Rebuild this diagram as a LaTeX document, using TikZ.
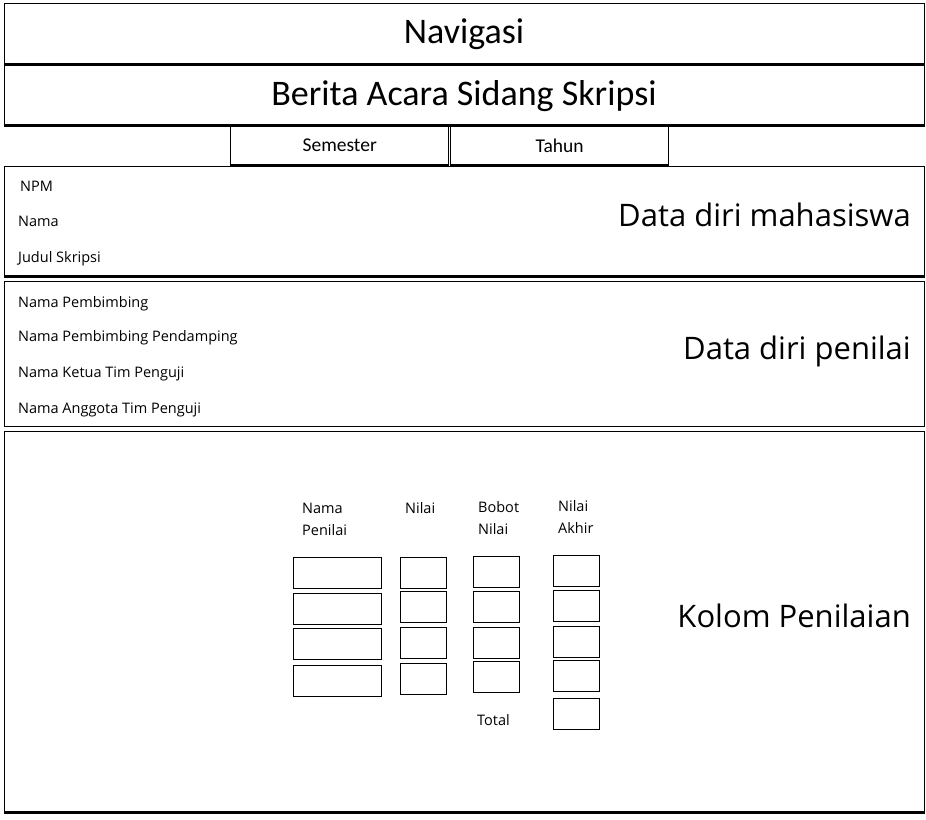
\documentclass[tikz,border=0pt]{standalone}
\usepackage{fontspec}
\setmainfont{Carlito}
\newfontfamily\uifont{Open Sans}
\usepackage{tikz}

\begin{document}
\begin{tikzpicture}[x=1pt, y=-1pt,
    panel/.style={draw, line width=1.3pt, anchor=north west, inner sep=0pt, minimum width=920pt},
    tab/.style={draw, line width=1.4pt, anchor=north west, inner sep=0pt,
        minimum width=218pt, minimum height=38pt, font=\fontsize{19.5}{22}\selectfont},
    field/.style={draw, line width=1.4pt, anchor=north west, inner sep=0pt, minimum height=31pt},
    edge/.style={line width=2.6pt},
    title/.style={anchor=base, inner sep=0pt, font=\fontsize{36}{40}\selectfont},
    side/.style={anchor=base east, inner sep=0pt, font=\uifont\fontsize{31}{36}\selectfont},
    item/.style={anchor=base west, inner sep=0pt, font=\uifont\fontsize{14.5}{22}\selectfont},
    colhead/.style={item, align=left}]
            \useasboundingbox (0,0) rectangle (926,819);
            % panels
            \node[panel, minimum height=60pt] (nav) at (4,3) {};
            \node[panel, minimum height=61pt] (berita) at (4,63) {};
            \node[tab] (semester) at (230,126) {Semester};
            \node[tab] (tahun) at (450,126) {Tahun};
            \node[panel, minimum height=109pt] (mhs) at (4,166) {};
            \node[panel, minimum height=145pt] (penilai) at (4,281) {};
            \node[panel, minimum height=380pt] (kolom) at (4,431) {};
            \draw[edge] (nav.south west) -- (nav.south east);
            \draw[edge] (berita.south west) -- (berita.south east);
            \draw[edge] (semester.south west) -- (semester.south east);
            \draw[edge] (tahun.south west) -- (tahun.south east);
            \draw[edge] (mhs.south west) -- (mhs.south east);
            \draw[line width=3.5pt] (kolom.south west) -- (kolom.south east);
            % titles
            \node[title] (navtxt) at (464,43) {Navigasi};
            \node[title] (beritatxt) at (464,105) {Berita Acara Sidang Skripsi};
            \node[side] (mhstxt) at (911,226) {Data diri mahasiswa};
            \node[side] (penilaitxt) at (911,359) {Data diri penilai};
            \node[side] (kolomtxt) at (911,627) {Kolom Penilaian};
            % data fields
            \node[item] (npm) at (20,191) {NPM};
            \node[item] (nama) at (18,226) {Nama};
            \node[item] (skripsi) at (18,262) {Judul Skripsi};
            \node[item] (pemb) at (18,307) {Nama Pembimbing};
            \node[item] (pend) at (18,341) {Nama Pembimbing Pendamping};
            \node[item] (ketua) at (18,377) {Nama Ketua Tim Penguji};
            \node[item] (anggota) at (18,413) {Nama Anggota Tim Penguji};
            % table (base of a two-line label is its last line)
            \node[colhead] (hnama) at (302,535) {Nama\\Penilai};
            \node[colhead] (hnilai) at (405,513) {Nilai};
            \node[colhead] (hbobot) at (478,534) {Bobot\\Nilai};
            \node[colhead] (hakhir) at (558,533) {Nilai\\Akhir};
            \node[item] (total) at (477,725) {Total};
            \foreach \y [count=\i] in {557,593,628,665}
                \node[field, minimum width=88pt] (nama\i) at (293,\y) {};
            \foreach \y [count=\i] in {557,591,627,663}
                \node[field, minimum width=46pt] (nilai\i) at (400,\y) {};
            \foreach \y [count=\i] in {556,591,627,661}
                \node[field, minimum width=46pt] (bobot\i) at (473,\y) {};
            \foreach \y [count=\i] in {555,590,626,660,698}
                \node[field, minimum width=46pt] (akhir\i) at (553,\y) {};
        \end{tikzpicture}
\end{document}
